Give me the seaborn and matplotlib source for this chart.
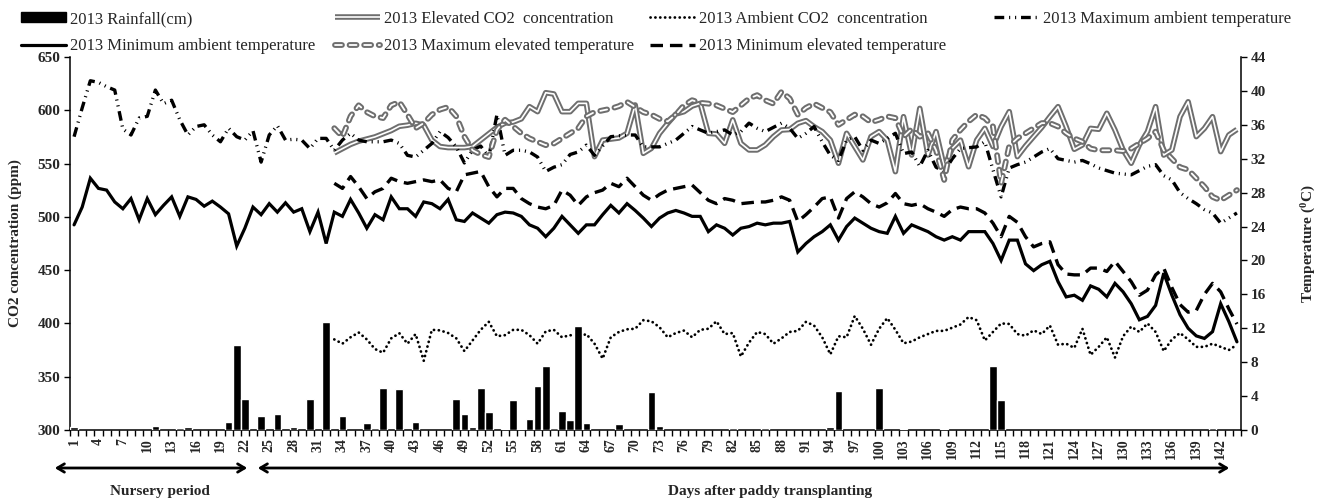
import matplotlib
matplotlib.use("Agg")
import matplotlib.pyplot as plt
import matplotlib.patheffects as pe
from matplotlib.lines import Line2D
from matplotlib.patches import Patch, FancyArrowPatch
import seaborn as sns

# ---------------- data ----------------
days_all = list(range(1, 145))
days_exp = list(range(33, 145))
tick_days = list(range(1, 145, 3))

rain_days = [1, 11, 14, 15, 20, 21, 22, 24, 26, 28, 30, 32, 34, 37, 38, 39, 41, 43, 48, 49,
             50, 51, 52, 54, 55, 56, 57, 58, 59, 60, 61, 62, 63, 64, 68, 72, 73, 82, 86, 94,
             95, 100, 103, 108, 114, 115, 141]
rain_cm = [0.4, 0.5, 0.27, 0.4, 0.94, 10.0, 3.7, 1.6, 1.9, 0.4, 3.7, 12.7, 1.6, 0.8, 0.27, 4.9, 4.8, 0.94, 3.7, 1.9,
           0.3, 4.9, 2.1, 0.1, 3.5, 0.1, 1.3, 5.2, 7.5, 0.2, 2.3, 1.2, 12.3, 0.8, 0.67, 4.5, 0.5, 0.2, 0.2, 0.3,
           4.6, 5.0, 0.1, 0.1, 7.6, 3.5, 0.2]

max_amb = [34.6, 38, 41.2, 41, 40.5, 40.1, 35.5, 34.8, 36.8, 37,
           40.1, 38.5, 38.9, 36.6, 34.8, 35.8, 36, 34.8, 34.0, 35.6,
           34.6, 34.2, 35.3, 31.6, 34.8, 35.9, 34.2, 34.3, 34.2, 33.2,
           34.4, 34.4, 33, 34.2, 35, 34.2, 34, 34, 34, 34.2,
           33.8, 32.4, 32.2, 33, 33.8, 35.2, 34.5, 33.4, 31.5, 33,
           33.5, 32.2, 37.2, 32.4, 33, 33, 32.8, 32.2, 30.5, 31,
           31.3, 32.5, 32.8, 33.6, 32.4, 33.5, 34.6, 34.7, 34.8, 34.8,
           33.4, 33.4, 33.4, 33.8, 34.2, 35, 35.8, 35.4, 35, 35.2,
           35.4, 34.8, 35.2, 36.2, 35.6, 35.2, 35.7, 36.2, 35.6, 34.4,
           35, 35.8, 34, 32.4, 31.8, 34.2, 34.6, 33, 34.2, 33.8,
           34.4, 35, 32.6, 32.8, 31.1, 33, 31, 30.5, 32, 33.2,
           33.3, 33.4, 34, 30.7, 27.5, 30.9, 31.3, 31.6, 32.2, 32.8,
           33.2, 32, 31.8, 31.6, 31.8, 31.4, 30.9, 30.6, 30.3, 30.2,
           30.1, 30.6, 31.1, 31.3, 30, 29.5, 28, 27.3, 26.7, 26,
           25.6, 24.4, 25, 25.6]

min_amb = [24.2, 26.3, 29.7, 28.5, 28.3, 26.9, 26.1, 27.3, 24.8, 27.3,
           25.4, 26.5, 27.5, 25.2, 27.5, 27.2, 26.4, 27.0, 26.3, 25.5,
           21.7, 23.8, 26.3, 25.4, 26.7, 25.7, 26.8, 25.7, 26.1, 23.4,
           25.7, 22.0, 25.7, 25.2, 27.2, 25.6, 23.8, 25.4, 24.8, 27.5,
           26.1, 26.1, 25.2, 26.9, 26.7, 26.1, 27.2, 24.8, 24.6, 25.6,
           25, 24.4, 25.4, 25.7, 25.6, 25.2, 24.2, 23.8, 22.8, 23.8,
           25.2, 24.2, 23.2, 24.2, 24.2, 25.4, 26.5, 25.6, 26.7, 25.9,
           25, 24, 25, 25.6, 25.9, 25.6, 25.2, 25.2, 23.4, 24.2,
           23.8, 23, 23.8, 24, 24.4, 24.2, 24.4, 24.4, 24.6, 21,
           22, 22.8, 23.4, 24.2, 22.4, 24, 25, 24.4, 23.8, 23.4,
           23.2, 25.2, 23.2, 24.2, 23.8, 23.4, 22.8, 22.4, 22.8, 22.4,
           23.4, 23.4, 23.4, 22, 20, 22.4, 22.4, 19.6, 18.8, 19.5,
           19.9, 17.5, 15.7, 15.9, 15.3, 17, 16.6, 15.7, 17.3, 16.3,
           14.9, 13, 13.4, 14.7, 18.5, 15.9, 13.6, 12, 11.1, 10.8,
           11.6, 14.9, 12.8, 10.4]

max_elev = [35.6, 34.6, 37, 38.3, 37.5, 37, 36.8, 38.3, 38.7, 37.2,
            35.6, 36.2, 37.2, 37.8, 38.1, 37, 34.6, 33, 32.5, 32.2,
            35.4, 36.6, 35.8, 35, 34.4, 34, 33.6, 33.8, 34.4, 35,
            35.6, 37, 37.5, 37.7, 37.9, 38.2, 38.7, 38.1, 37.5, 37.2,
            36.7, 36.4, 37.2, 38.3, 38.9, 38.6, 38.5, 38.3, 37.9, 37.5,
            38.3, 39.1, 39.5, 38.9, 38.5, 39.9, 39.1, 37.2, 38, 38.5,
            38, 37.5, 36, 36.6, 37.2, 37, 36.3, 36.6, 37, 36.8,
            34.6, 35.5, 34.6, 35, 33, 29.5, 34.2, 35.4, 36.4, 37.2,
            36.8, 35.8, 29.1, 33.5, 34.4, 35, 35.6, 36.2, 36.2, 35.8,
            35, 34.4, 34, 33.2, 33, 33, 33, 32.9, 33.2, 33.8,
            34.4, 35.2, 33, 32, 31, 30.7, 29.7, 28.7, 27.5, 27.1,
            27.7, 28.3]

min_elev = [29.1, 28.5, 29.9, 28.7, 27.3, 28.1, 28.5, 29.7, 29.3, 29.1,
            29.3, 29.5, 29.3, 29.5, 28.5, 28.1, 30.1, 30.3, 30.5, 28.7,
            27.5, 28.5, 28.5, 27.3, 26.7, 26.3, 26.1, 26.5, 28.3, 27.7,
            26.5, 27.5, 28, 28.3, 29.1, 28.7, 29.7, 28.7, 27.7, 27.1,
            27.8, 28.3, 28.5, 28.7, 28.9, 28, 27.1, 26.7, 27.3, 27.1,
            26.7, 26.8, 26.9, 26.9, 27.1, 27.5, 27.1, 24.6, 25.4, 26.3,
            27.3, 27.5, 25, 27.3, 28.1, 27.5, 26.7, 26.3, 26.8, 27.9,
            26.7, 26.5, 26.7, 26.1, 25.7, 25.2, 26, 26.3, 26.1, 26.1,
            25.6, 24.4, 22.8, 25.2, 24.5, 22.8, 21.6, 22, 22.2, 19.5,
            18.4, 18.3, 18.3, 19.1, 19.1, 18.7, 19.9, 18.7, 17.5, 15.9,
            16.5, 18.3, 19.1, 16.8, 14.8, 13.9, 14.1, 16, 17.3, 16.3,
            14.3, 12.5]

elev_co2 = [560, 564, 568, 571, 573, 575, 578, 581, 585, 586,
            587.8, 586, 572, 566, 565, 565, 565, 566, 572, 578,
            584, 588, 589, 592, 603.4, 598.7, 616.5, 615.3, 598.7, 598.7,
            606.5, 606.5, 556.5, 572, 573, 574, 578.4, 605, 559.6, 564.3,
            578.4, 587.8, 596.5, 598.7, 604, 606.5, 578.4, 577.8, 569, 591,
            569, 562.8, 562.8, 567.5, 575.3, 581.5, 582, 587.8, 590.3, 584.6,
            580, 572, 550.3, 578.4, 565.9, 553.4, 575.3, 580, 572, 542.4,
            594, 558, 601.8, 558, 580, 547, 564.3, 572, 547, 572,
            583, 566, 584.6, 598.7, 556.5, 566.5, 575.3, 584, 594, 603.4,
            584.6, 563.4, 567.5, 583, 582.2, 597.2, 581.5, 562.8, 550.3, 567.5,
            580, 603.4, 558, 562.8, 594, 608, 575.3, 583, 594, 561.2,
            576.8, 582]

amb_co2 = [385, 381, 387, 391.5, 385, 376, 372.5, 386, 390.8, 381,
           390, 365, 394, 393.5, 391, 386, 374, 384, 394, 401.5,
           388, 389, 394, 394, 389, 381, 392.5, 394, 387, 389,
           387.5, 390, 381, 367, 387, 392, 394.5, 395, 403, 402,
           396.4, 387, 391, 393.3, 387, 394, 395, 402, 390, 391,
           369, 382, 392, 390, 381, 386, 392, 393, 401.5, 398,
           387, 371, 388, 387, 407, 395, 380, 395, 405, 394,
           381.4, 383, 387, 390, 393, 393, 396, 399, 406, 403,
           384, 392, 400, 399.5, 390, 388.5, 393.5, 390, 398, 380,
           381, 377, 395, 370.5, 378, 387, 368, 388, 397, 392,
           400, 392, 374, 385, 391, 385, 378, 378, 381, 378,
           375, 380]

lbl_rain = "2013 Rainfall(cm)"
lbl_elev_co2 = "2013 Elevated CO2  concentration"
lbl_amb_co2 = "2013 Ambient CO2  concentration"
lbl_max_amb = "2013 Maximum ambient temperature"
lbl_min_amb = "2013 Minimum ambient temperature"
lbl_max_elev = "2013 Maximum elevated temperature"
lbl_min_elev = "2013 Minimum elevated temperature"

# ---------------- style ----------------
sns.set_style("ticks")
plt.rcParams['font.family'] = ['Liberation Serif', 'DejaVu Serif']
plt.rcParams['lines.scale_dashes'] = False
plt.rcParams['mathtext.fontset'] = 'custom'
plt.rcParams['mathtext.rm'] = 'Liberation Serif:bold'
plt.rcParams['mathtext.it'] = 'Liberation Serif:bold'
plt.rcParams['mathtext.bf'] = 'Liberation Serif:bold'

W, H = 1320, 504
fig = plt.figure(figsize=(W / 100, H / 100), dpi=100)
L, R, T, B = 70, 1241, 57, 430
ax = fig.add_axes([L / W, 1 - B / H, (R - L) / W, (B - T) / H])
ax2 = ax.twinx()

# styles
dbl_fx = [pe.Stroke(linewidth=4.0, foreground='#6e6e6e'), pe.Normal()]
dbl_dash_fx = [pe.Stroke(linewidth=4.2, foreground='#6e6e6e'), pe.Normal()]
st_elev_co2 = dict(color='white', lw=1.2, solid_capstyle='butt', path_effects=dbl_fx)
st_amb_co2 = dict(color='black', lw=2.0, linestyle=(0, (0.1, 3.4)), dash_capstyle='round')
st_max_amb = dict(color='black', lw=2.4, linestyle=(0, (7, 3.5, 0.8, 3.5, 0.8, 3.5)), dash_capstyle='butt')
st_min_amb = dict(color='black', lw=2.3, solid_joinstyle='miter')
st_max_elev = dict(color='white', lw=1.3, linestyle=(0, (5, 5.5)), dash_capstyle='round', path_effects=dbl_dash_fx)
st_min_elev = dict(color='black', lw=2.4, linestyle=(0, (9, 5)), dash_capstyle='butt')

# bars (rainfall) on temperature axis
sns.barplot(x=rain_days, y=rain_cm, native_scale=True, color='black', saturation=1,
            width=0.95, errorbar=None, ax=ax2, zorder=1)

# CO2 lines (left axis)
sns.lineplot(x=days_exp, y=amb_co2, ax=ax, errorbar=None, **st_amb_co2)
sns.lineplot(x=days_exp, y=elev_co2, ax=ax, errorbar=None, **st_elev_co2)

# temperature lines (right axis)
sns.lineplot(x=days_all, y=min_amb, ax=ax2, errorbar=None, **st_min_amb)
sns.lineplot(x=days_all, y=max_amb, ax=ax2, errorbar=None, **st_max_amb)
sns.lineplot(x=days_exp, y=min_elev, ax=ax2, errorbar=None, **st_min_elev)
sns.lineplot(x=days_exp, y=max_elev, ax=ax2, errorbar=None, **st_max_elev)

# axes limits & ticks
ax.set_xlim(0.5, 144.5)
ax2.set_xlim(0.5, 144.5)
ax.set_ylim(300, 650)
ax2.set_ylim(0, 44)
ax.set_yticks(range(300, 651, 50))
ax2.set_yticks(range(0, 45, 4))
ax.set_xticks(tick_days)
ax.set_xticklabels([str(d) for d in tick_days], rotation=90, fontweight='bold', fontsize=10)
ax.set_xticks([d + 0.5 for d in range(0, 145)], minor=True)
ax.tick_params(axis='x', which='major', length=0, pad=6)
ax.tick_params(axis='x', which='minor', length=4, width=1, direction='out', color='black')
ax.tick_params(axis='y', length=4, width=1, direction='out', color='black', labelsize=11, pad=3)
ax2.tick_params(axis='y', length=4, width=1, direction='out', color='black', labelsize=11, pad=3)
for lab in ax.get_yticklabels() + ax2.get_yticklabels():
    lab.set_fontweight('bold')
ax.set_xlabel('')
ax2.set_xlabel('')

for a in (ax, ax2):
    a.spines['top'].set_visible(False)
    for s in a.spines.values():
        s.set_color('black')
        s.set_linewidth(1.1)
ax.spines['right'].set_visible(False)
ax2.spines['left'].set_visible(False)
ax2.spines['bottom'].set_visible(False)

ax.set_ylabel('CO2 concentration (ppm)', fontweight='bold', fontsize=11)
ax.yaxis.set_label_coords(-0.041, 0.5)
ax2.set_ylabel(r'Temperature ($^{0}$C)', fontweight='bold', fontsize=11, rotation=90)
ax2.yaxis.set_label_coords(1.05, 0.5)

# ---------------- legend ----------------
h_rain = Patch(facecolor='black', edgecolor='black')
h_elev_co2 = Line2D([], [], **st_elev_co2)
h_amb_co2 = Line2D([], [], **st_amb_co2)
h_max_amb = Line2D([], [], **st_max_amb)
h_min_amb = Line2D([], [], **st_min_amb)
h_max_elev = Line2D([], [], **st_max_elev)
h_min_elev = Line2D([], [], **st_min_elev)

cols = [
    (21, [h_rain, h_min_amb], [lbl_rain, lbl_min_amb]),
    (335, [h_elev_co2, h_max_elev], [lbl_elev_co2, lbl_max_elev]),
    (650, [h_amb_co2, h_min_elev], [lbl_amb_co2, lbl_min_elev]),
    (994, [h_max_amb], [lbl_max_amb]),
]
for x0, hs, ls in cols:
    fig.legend(hs, ls, loc='upper left', bbox_to_anchor=(x0 / W, 1 - 11 / H),
               bbox_transform=fig.transFigure, frameon=False, fontsize=12,
               handlelength=2.7, handleheight=0.6, handletextpad=0.25,
               labelspacing=0.68, borderpad=0, borderaxespad=0)

# ---------------- bottom annotations ----------------
ya = 1 - 468 / H
fig.add_artist(FancyArrowPatch((52 / W, ya), (250 / W, ya), transform=fig.transFigure,
                               arrowstyle='<->,head_length=5,head_width=3', lw=2, color='black'))
fig.add_artist(FancyArrowPatch((255 / W, ya), (1232 / W, ya), transform=fig.transFigure,
                               arrowstyle='<->,head_length=5,head_width=3', lw=2, color='black'))
fig.text(160 / W, 1 - 492 / H, 'Nursery period', ha='center', va='center', fontweight='bold', fontsize=11)
fig.text(770 / W, 1 - 492 / H, 'Days after paddy transplanting', ha='center', va='center',
         fontweight='bold', fontsize=11)

fig.savefig('out.png', dpi=100)
